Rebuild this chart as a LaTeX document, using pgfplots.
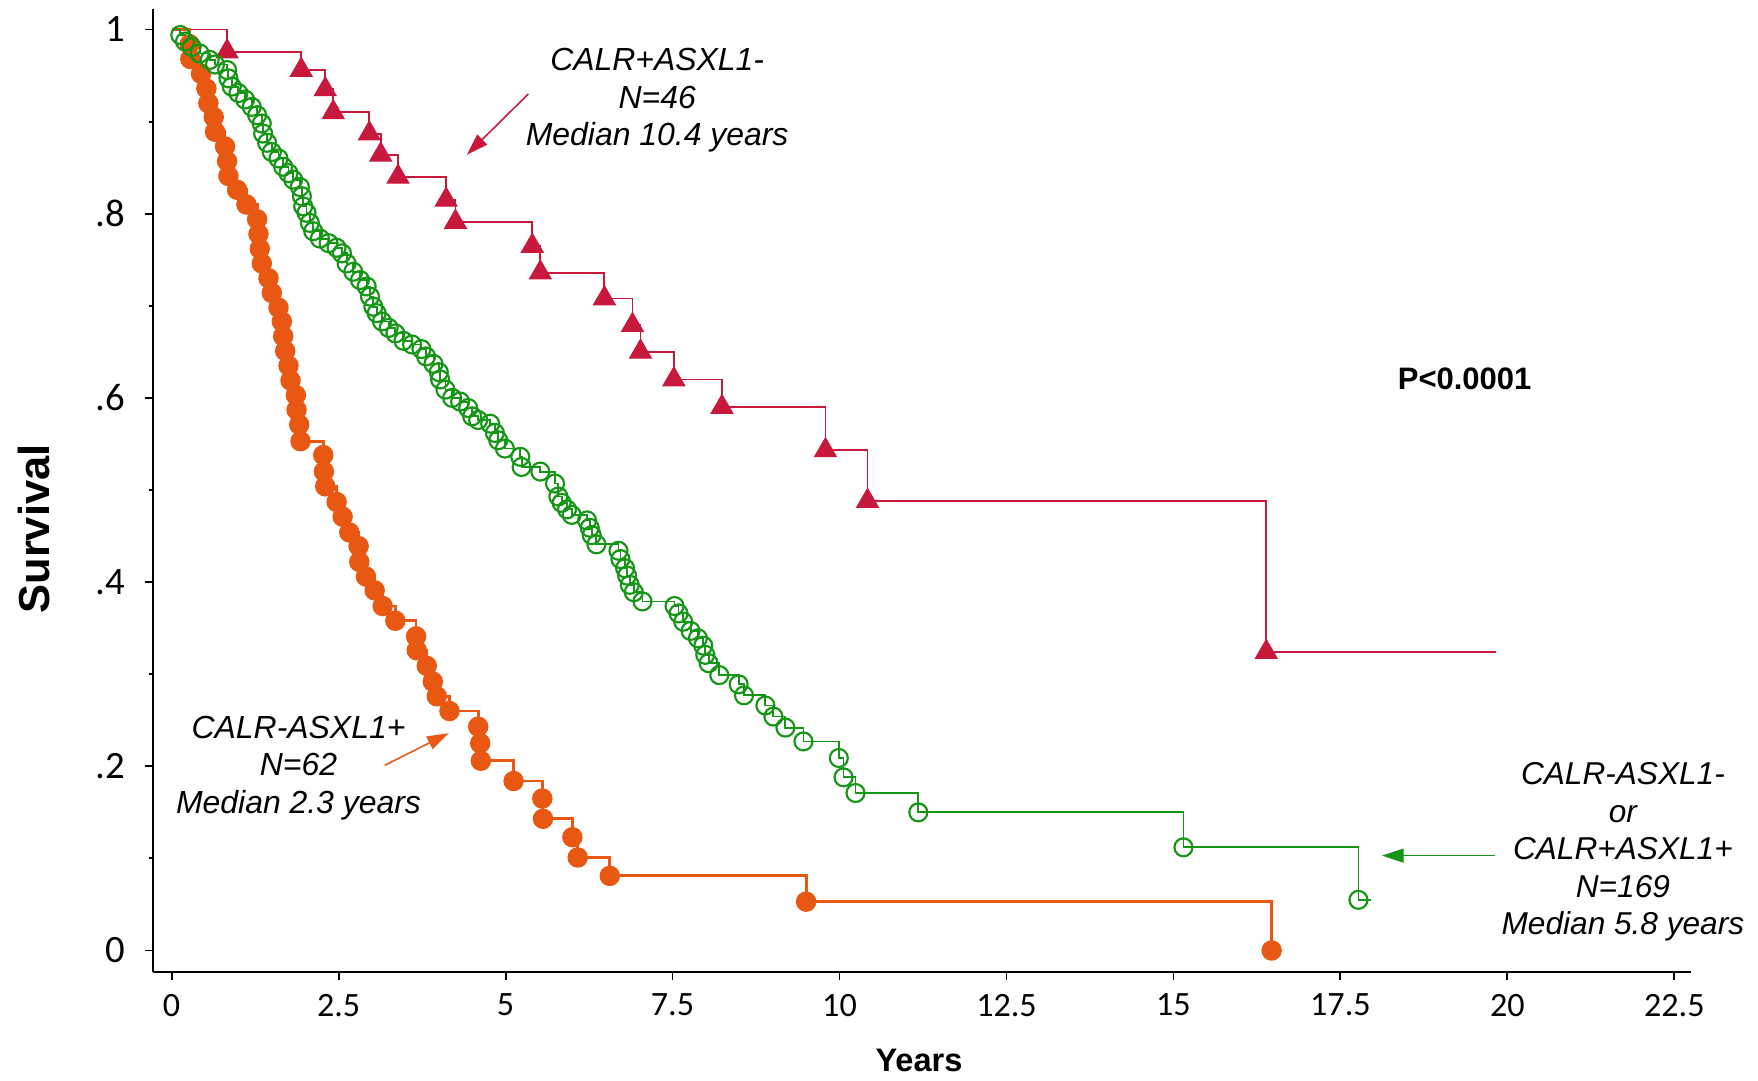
\documentclass[border=0pt]{standalone}
\usepackage{pgfplots}
\pgfplotsset{compat=1.18}
\usepackage{pgfplotstable}
\usepackage{fontspec}
\setmainfont{Liberation Sans}
\newfontfamily\tickfont{Carlito}
\usetikzlibrary{arrows.meta}
\definecolor{cred}{RGB}{200,25,60}
\definecolor{corange}{RGB}{232,88,18}
\definecolor{cgreen}{RGB}{22,150,22}

\pgfplotstableread{
t s
0 1
0.83 0.976
1.94 0.956
2.30 0.935
2.42 0.910
2.96 0.887
3.13 0.864
3.39 0.840
4.11 0.815
4.25 0.791
5.40 0.765
5.52 0.736
6.48 0.708
6.90 0.679
7.02 0.650
7.52 0.620
8.24 0.590
9.79 0.543
10.42 0.488
16.39 0.324
19.83 0.324
}\redtab

\pgfplotstableread{
t s
0 1
0.27 0.984
0.28 0.968
0.44 0.952
0.52 0.936
0.55 0.920
0.63 0.905
0.65 0.889
0.80 0.873
0.83 0.857
0.85 0.841
0.98 0.826
1.12 0.810
1.28 0.794
1.30 0.778
1.32 0.762
1.35 0.746
1.45 0.730
1.50 0.714
1.60 0.698
1.65 0.683
1.67 0.667
1.70 0.651
1.75 0.635
1.78 0.619
1.86 0.603
1.87 0.587
1.91 0.571
1.93 0.553
2.27 0.538
2.28 0.520
2.30 0.504
2.47 0.487
2.56 0.471
2.66 0.454
2.80 0.439
2.81 0.422
2.91 0.406
3.04 0.391
3.16 0.374
3.35 0.358
3.66 0.341
3.67 0.326
3.82 0.309
3.91 0.292
3.97 0.276
4.16 0.260
4.59 0.243
4.62 0.225
4.63 0.206
5.12 0.184
5.55 0.165
5.56 0.143
6.00 0.123
6.08 0.101
6.56 0.081
9.50 0.053
16.47 0.000
}\orangetab

\pgfplotstableread{
t s
0 1
0.13 0.994
0.20 0.987
0.30 0.981
0.42 0.974
0.57 0.967
0.65 0.962
0.83 0.956
0.85 0.947
0.90 0.938
1.00 0.931
1.10 0.924
1.20 0.916
1.28 0.907
1.35 0.898
1.37 0.887
1.43 0.877
1.50 0.867
1.60 0.860
1.67 0.851
1.75 0.844
1.82 0.837
1.92 0.829
1.95 0.819
1.97 0.808
2.02 0.801
2.07 0.790
2.12 0.781
2.22 0.773
2.35 0.768
2.47 0.763
2.55 0.757
2.62 0.746
2.72 0.737
2.82 0.728
2.92 0.721
2.97 0.710
3.02 0.699
3.07 0.692
3.15 0.683
3.25 0.676
3.35 0.670
3.47 0.662
3.60 0.658
3.74 0.653
3.81 0.645
3.92 0.637
4.00 0.628
4.02 0.620
4.10 0.609
4.20 0.600
4.32 0.596
4.44 0.589
4.50 0.580
4.59 0.576
4.77 0.572
4.84 0.562
4.89 0.554
4.99 0.545
5.22 0.536
5.24 0.525
5.52 0.520
5.74 0.507
5.79 0.493
5.84 0.486
5.92 0.479
5.99 0.473
6.22 0.467
6.26 0.459
6.29 0.451
6.36 0.441
6.69 0.434
6.72 0.425
6.79 0.415
6.82 0.407
6.86 0.397
6.92 0.389
7.05 0.379
7.53 0.374
7.59 0.366
7.66 0.357
7.77 0.347
7.88 0.339
7.96 0.331
7.99 0.321
8.04 0.312
8.20 0.299
8.49 0.289
8.57 0.277
8.89 0.266
9.01 0.254
9.19 0.242
9.46 0.227
9.99 0.209
10.06 0.188
10.24 0.171
11.18 0.150
15.15 0.112
17.77 0.055
17.96 0.055
}\greentab

\begin{document}
\begin{tikzpicture}
\begin{axis}[
  scale only axis,
  width=496.1pt, height=310.6pt,
  xmin=-0.277, xmax=22.75,
  ymin=-0.0232, ymax=1.0223,
  axis x line*=bottom, axis y line*=left,
  axis line style={line width=0.8pt, -},
  tick align=outside,
  major tick length=2.6pt,
  minor tick length=1.3pt,
  tick style={black, line width=0.6pt},
  xtick={0,2.5,5,7.5,10,12.5,15,17.5,20,22.5},
  xticklabels={0,2.5,5,7.5,10,12.5,15,17.5,20,22.5},
  ytick={0,0.2,0.4,0.6,0.8,1},
  yticklabels={0,.2,.4,.6,.8,1},
  minor ytick={0.1,0.3,0.5,0.7,0.9},
  xticklabel style={font=\tickfont\fontsize{11}{12}\selectfont, yshift=-1pt},
  yticklabel style={font=\tickfont\fontsize{12.5}{14}\selectfont, xshift=-3pt},
  clip=false,
]
% red
\addplot[const plot, color=cred, line width=0.6pt, mark=none] table[x=t,y=s] {\redtab};
\addplot[only marks, mark=triangle*, mark size=4pt, color=cred, mark options={fill=cred, draw=cred},
  restrict x to domain=0.1:19] table[x=t,y=s] {\redtab};
% orange
\addplot[const plot, color=corange, line width=0.9pt, mark=none] table[x=t,y=s] {\orangetab};
\addplot[only marks, mark=*, mark size=3.1pt, color=corange, mark options={fill=corange, draw=corange},
  restrict x to domain=0.05:20] table[x=t,y=s] {\orangetab};
% green
\addplot[const plot, color=cgreen, line width=0.6pt, mark=none] table[x=t,y=s] {\greentab};
\addplot[only marks, mark=o, mark size=2.9pt, color=cgreen, mark options={draw=cgreen, line width=0.7pt},
  restrict x to domain=0.05:17.9] table[x=t,y=s] {\greentab};

% annotations
\node[align=center, font=\itshape\fontsize{10.3}{12.1}\selectfont] at (axis cs:7.27,0.923)
  {CALR+ASXL1-\\N=46\\Median 10.4 years};
\draw[cred, line width=0.5pt, -{Triangle[length=7pt,width=4.5pt]}] (axis cs:5.34,0.930) -- (axis cs:4.42,0.864);

\node[align=center, font=\itshape\fontsize{10.3}{12.1}\selectfont] at (axis cs:1.90,0.198)
  {CALR-ASXL1+\\N=62\\Median 2.3 years};
\draw[corange, line width=0.5pt, -{Triangle[length=7pt,width=4.5pt]}] (axis cs:3.19,0.201) -- (axis cs:4.15,0.236);

\node[align=center, font=\itshape\fontsize{10.2}{12.1}\selectfont] at (axis cs:21.73,0.107)
  {CALR-ASXL1-\\or\\CALR+ASXL1+\\N=169\\Median 5.8 years};
\draw[cgreen, line width=0.5pt, -{Triangle[length=7pt,width=4.5pt]}] (axis cs:19.82,0.103) -- (axis cs:18.12,0.103);

\node[font=\bfseries\fontsize{10}{12}\selectfont] at (axis cs:19.36,0.621) {P<0.0001};

\node[rotate=90, font=\bfseries\fontsize{14}{16}\selectfont] at (rel axis cs:-0.0776,0.46) {Survival};
\node[font=\bfseries\fontsize{10.5}{12}\selectfont] at (rel axis cs:0.498,-0.092) {Years};
\end{axis}
\pgfresetboundingbox
\path (-49.4pt,-35.2pt) rectangle (517.7pt,313.5pt);
\end{tikzpicture}
\end{document}
